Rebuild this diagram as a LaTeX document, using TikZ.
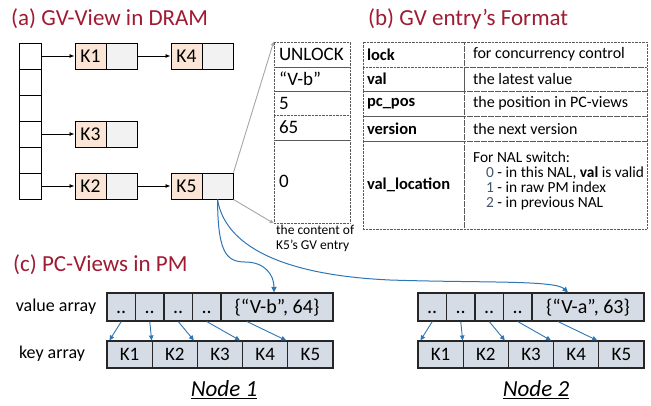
\documentclass[tikz,border=0pt]{standalone}
\usepackage{fontspec}
\setmainfont{Carlito}
\usetikzlibrary{arrows.meta}
\definecolor{titlered}{RGB}{158,27,50}
\definecolor{keyfill}{RGB}{251,229,214}
\definecolor{valfill}{RGB}{242,242,242}
\definecolor{pcfill}{RGB}{214,220,229}
\definecolor{pblue}{RGB}{46,117,182}
\definecolor{lgray}{RGB}{166,166,166}
\definecolor{numgray}{RGB}{68,84,106}
\definecolor{dotgray}{RGB}{90,90,90}
\newcommand{\cellA}[1]{\makebox[93pt][l]{#1}}
\newcommand{\cellB}[1]{\makebox[165pt][l]{#1}}
\newcommand{\cellE}[1]{\makebox[66pt][l]{#1}}
\begin{document}
\begin{tikzpicture}[x=1pt,y=-1pt,
  title/.style={anchor=west, text=titlered, font=\fontsize{23}{26}\selectfont, inner sep=0pt},
  bucket/.style={draw, line width=1pt, minimum width=22pt, minimum height=26pt, inner sep=0pt},
  keybox/.style={draw, line width=1pt, fill=keyfill, minimum width=31pt, minimum height=26pt, inner sep=0pt, font=\fontsize{19.5}{22}\selectfont},
  valbox/.style={draw, line width=1pt, fill=valfill, minimum width=31pt, minimum height=26pt, inner sep=0pt},
  link/.style={line width=0.8pt, -{Latex[length=5pt,width=4pt]}},
  grayarrow/.style={draw=lgray, line width=0.9pt, -{Triangle[length=4pt,width=3.5pt]}},
  entry/.style={draw=dotgray, dash pattern=on 0.7pt off 0.7pt, line width=0.6pt, minimum width=76pt, inner xsep=5pt, inner ysep=0pt, font=\fontsize{19}{22}\selectfont},
  fmta/.style={draw=dotgray, dash pattern=on 0.7pt off 0.7pt, line width=0.6pt, minimum width=101pt, inner xsep=4pt, inner ysep=0pt, font=\fontsize{16.5}{20}\selectfont\bfseries},
  fmtb/.style={draw=dotgray, dash pattern=on 0.7pt off 0.7pt, line width=0.6pt, minimum width=183pt, inner xsep=9pt, inner ysep=0pt, font=\fontsize{16}{20}\selectfont},
  pcv/.style={draw=black!85, line width=1.1pt, fill=pcfill, minimum height=28pt, inner sep=0pt, text height=15pt, text depth=3pt, font=\fontsize{20}{22}\selectfont},
  pck/.style={draw=black!85, line width=1.1pt, fill=pcfill, minimum height=27pt, minimum width=45.2pt, inner sep=0pt, font=\fontsize{19}{22}\selectfont},
  pcarrow/.style={draw=pblue, line width=0.9pt, -{Triangle[length=5pt,width=4.5pt]}},
  bigblue/.style={draw=pblue, line width=1pt, -{Triangle[length=5.5pt,width=5pt]}},
  lbl/.style={font=\fontsize{18}{20}\selectfont, inner sep=0pt},
  nodelbl/.style={font=\fontsize{23}{26}\selectfont\itshape, inner sep=0pt}
]
\useasboundingbox (0,0) rectangle (651,405);

% titles
\node[title] (ta) at (11,19) {(a) GV-View in DRAM};
\node[title] (tb) at (368,19) {(b) GV entry’s Format};
\node[title] (tc) at (13,265) {(c) PC-Views in PM};

% buckets
\foreach \i in {0,...,5} \node[bucket] (b\i) at (30,{56+26*\i}) {};

% GV entries
\node[keybox] (k1k) at (90.5,56) {K1};
\node[valbox] (k1v) at (121.5,56) {};
\node[keybox] (k4k) at (186.5,56) {K4};
\node[valbox] (k4v) at (217.5,56) {};
\node[keybox] (k3k) at (90.5,134) {K3};
\node[valbox] (k3v) at (121.5,134) {};
\node[keybox] (k2k) at (90.5,186) {K2};
\node[valbox] (k2v) at (121.5,186) {};
\node[keybox] (k5k) at (186.5,186) {K5};
\node[valbox] (k5v) at (217.5,186) {};

\draw[link] (b0.east) -- (k1k.west);
\draw[link] (k1v.east) -- (k4k.west);
\draw[link] (b3.east) -- (k3k.west);
\draw[link] (b5.east) -- (k2k.west);
\draw[link] (k2v.east) -- (k5k.west);

% entry content
\node[entry, minimum height=25pt] (e1) at (312,54.5) {\cellE{UNLOCK}};
\node[entry, minimum height=24pt] (e2) at (312,79) {\cellE{“V-b”}};
\node[entry, minimum height=24pt] (e3) at (312,103) {\cellE{5}};
\node[entry, minimum height=25pt] (e4) at (312,127.5) {\cellE{65}};
\node[entry, minimum height=83pt] (e5) at (312,181.5) {\cellE{0}};
\draw[grayarrow] (k5v.north east) -- (e1.north west);
\draw[grayarrow] (k5v.south east) -- (e5.south west);
\node[anchor=north west, align=left, font=\fontsize{13.5}{15}\selectfont, inner sep=0pt] (cap) at (276,225) {the content of\\K5’s GV entry};

% format table
\node[fmta, minimum height=25pt] (f1a) at (413.5,54.5) {\cellA{lock}};
\node[fmtb, minimum height=25pt] (f1b) at (555.5,54.5) {\cellB{for concurrency control}};
\node[fmta, minimum height=24pt] (f2a) at (413.5,79) {\cellA{val}};
\node[fmtb, minimum height=24pt] (f2b) at (555.5,79) {\cellB{the latest value}};
\node[fmta, minimum height=25pt] (f3a) at (413.5,103.5) {\cellA{pc\_pos}};
\node[fmtb, minimum height=25pt] (f3b) at (555.5,103.5) {\cellB{the position in PC-views}};
\node[fmta, minimum height=25pt] (f4a) at (413.5,128.5) {\cellA{version}};
\node[fmtb, minimum height=25pt] (f4b) at (555.5,128.5) {\cellB{the next version}};
\node[fmta, minimum height=88pt] (f5a) at (413.5,185) {\cellA{val\_location}};
\node[fmtb, minimum height=88pt] (f5b) at (555.5,185) {};
\node[anchor=west, align=left, inner sep=0pt, font=\fontsize{15.4}{15}\selectfont] (nal) at (473,180.5)
  {For NAL switch:\\
   \hspace{13pt}{\color{numgray}0} - in this NAL, \textbf{val} is valid\\
   \hspace{13pt}{\color{numgray}1} - in raw PM index\\
   \hspace{13pt}{\color{numgray}2} - in previous NAL};

% PC views
\node[lbl] (lv) at (56,307) {value array};
\node[lbl] (lk) at (52,354) {key array};
\foreach \n/\ox in {1/0,2/311} {
  \foreach \i in {1,...,4} {
    \node[pcv, minimum width=28.5pt] (n\n-v\i) at ({\ox+121.25+28.5*(\i-1)},307) {..};
  }
  \foreach \i in {1,...,5} {
    \node[pck] (n\n-k\i) at ({\ox+129.6+45.2*(\i-1)},354.5) {K\i};
  }
}
\node[pcv, minimum width=112pt] (n1-v5) at (277,307) {\{“V-b”, 64\}};
\node[pcv, minimum width=112pt] (n2-v5) at (588,307) {\{“V-a”, 63\}};
\foreach \n in {1,2} {
  \draw[pcarrow] (n\n-v1.south) -- ([xshift=3pt]n\n-k1.north west);
  \draw[pcarrow] (n\n-v2.south) -- ([xshift=0pt]n\n-k2.north west);
  \draw[pcarrow] (n\n-v3.south) -- ([xshift=-3pt]n\n-k3.north west);
  \draw[pcarrow] (n\n-v4.south) -- ([xshift=-2pt]n\n-k4.north west);
  \draw[pcarrow] ([xshift=-30pt]n\n-v5.south) -- ([xshift=-1pt]n\n-k5.north west);
}
\node[nodelbl] (nd1) at (224,390) {\underline{Node 1}};
\node[nodelbl] (nd2) at (536,390) {\underline{Node 2}};

% big curves
\draw[bigblue] (k5v.south) .. controls (218,250) and (225,262) .. (245,262) .. controls (265,262) and (274,275) .. ([xshift=-3pt]n1-v5.north);
\draw[bigblue] (k5v.south) .. controls (225,245) and (280,275) .. (390,280) .. controls (480,283) and (555,280) .. ([xshift=-20pt]n2-v5.north);
\end{tikzpicture}
\end{document}
